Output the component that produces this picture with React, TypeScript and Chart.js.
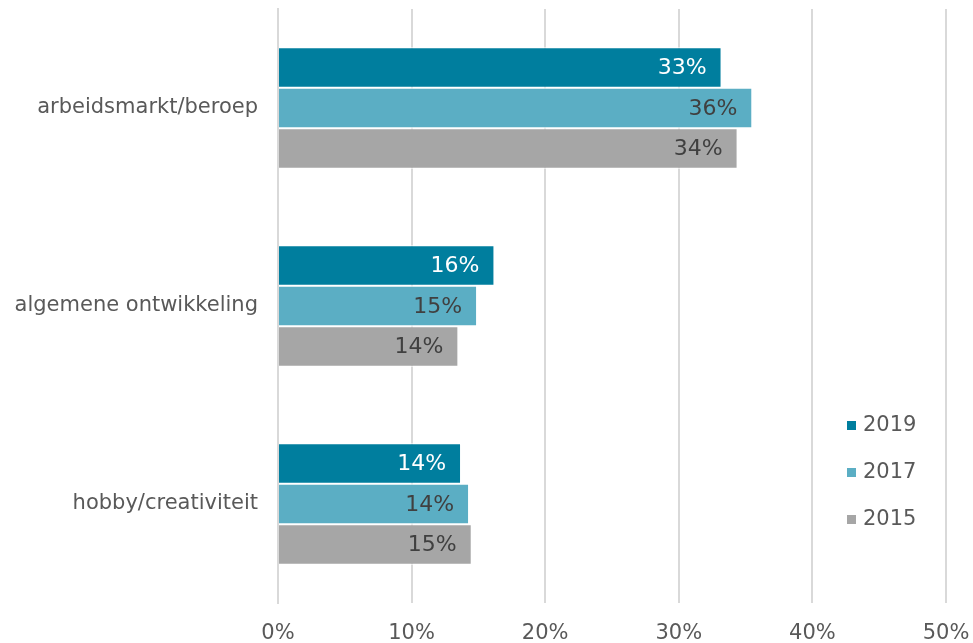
import React, { useEffect, useRef } from "react";
import { Chart, registerables } from "chart.js";

Chart.register(...registerables);

const categories = ["arbeidsmarkt/beroep", "algemene ontwikkeling", "hobby/creativiteit"];
const seriesNames = ["2019", "2017", "2015"];
const values2019 = [33.2, 16.2, 13.7];
const values2017 = [35.5, 14.9, 14.3];
const values2015 = [34.4, 13.5, 14.5];
const seriesColors = ["#007E9E", "#5BAEC4", "#A6A6A6"];
const labelColors = ["#FFFFFF", "#404040", "#404040"];
const tickValues = [0, 10, 20, 30, 40, 50];

const FONT = "'DejaVu Sans', Verdana, sans-serif";
const FS = 21;

const labelPlugin = {
  id: "barLabels",
  afterDatasetsDraw(chart: any) {
    const ctx = chart.ctx;
    ctx.save();
    ctx.font = `22px ${FONT}`;
    ctx.textAlign = "right";
    ctx.textBaseline = "middle";
    chart.data.datasets.forEach((ds: any, di: number) => {
      const meta = chart.getDatasetMeta(di);
      meta.data.forEach((bar: any, i: number) => {
        ctx.fillStyle = labelColors[di];
        ctx.fillText(Math.round(ds.data[i]) + "%", bar.x - 15, bar.y + 1);
      });
    });
    ctx.restore();
  },
};

const legendPlugin = {
  id: "customLegend",
  afterDraw(chart: any) {
    const ctx = chart.ctx;
    ctx.save();
    ctx.font = `${FS}px ${FONT}`;
    ctx.textAlign = "left";
    ctx.textBaseline = "middle";
    const ys = [425, 472, 519];
    seriesNames.forEach((name, i) => {
      ctx.fillStyle = seriesColors[i];
      ctx.fillRect(847, ys[i] - 4, 9, 9);
      ctx.fillStyle = "#595959";
      ctx.fillText(name, 863, ys[i] + 1);
    });
    ctx.restore();
  },
};

export default function App() {
  const ref = useRef<HTMLCanvasElement>(null);
  useEffect(() => {
    const chart = new Chart(ref.current!, {
      type: "bar",
      data: {
        labels: categories,
        datasets: [
          { label: seriesNames[0], data: values2019, backgroundColor: seriesColors[0] },
          { label: seriesNames[1], data: values2017, backgroundColor: seriesColors[1] },
          { label: seriesNames[2], data: values2015, backgroundColor: seriesColors[2] },
        ].map((d) => ({
          ...d,
          borderColor: "#FFFFFF",
          borderWidth: 1,
          categoryPercentage: 0.613,
          barPercentage: 1,
        })),
      },
      options: {
        indexAxis: "y",
        animation: false,
        responsive: true,
        maintainAspectRatio: false,
        layout: { padding: { top: 9, right: 27, bottom: 0, left: 0 } },
        plugins: { legend: { display: false }, tooltip: { enabled: false } },
        scales: {
          x: {
            min: 0,
            max: 50,
            afterBuildTicks(scale: any) {
              scale.ticks = tickValues.map((v) => ({ value: v }));
            },
            afterFit(scale: any) {
              scale.height = 40;
              scale.paddingLeft = 0;
              scale.paddingRight = 0;
            },
            ticks: {
              callback: (v: any) => v + "%",
              color: "#595959",
              font: { family: FONT, size: FS },
              padding: 18,
            },
            grid: { color: "#D9D9D9", lineWidth: 2, drawTicks: false },
            border: { display: false },
          },
          y: {
            afterFit(scale: any) {
              scale.width = 278;
              scale.paddingTop = 0;
              scale.paddingBottom = 0;
            },
            ticks: {
              color: "#595959",
              font: { family: FONT, size: FS, lineHeight: 1.4 },
              padding: 20,
            },
            grid: { display: false, drawTicks: false },
            border: { display: true, color: "#D9D9D9", width: 2 },
          },
        },
      },
      plugins: [labelPlugin, legendPlugin],
    } as any);
    return () => chart.destroy();
  }, []);
  return (
    <div style={{ position: "fixed", left: 0, top: 0, width: 973, height: 643 }}>
      <canvas ref={ref} />
    </div>
  );
}
